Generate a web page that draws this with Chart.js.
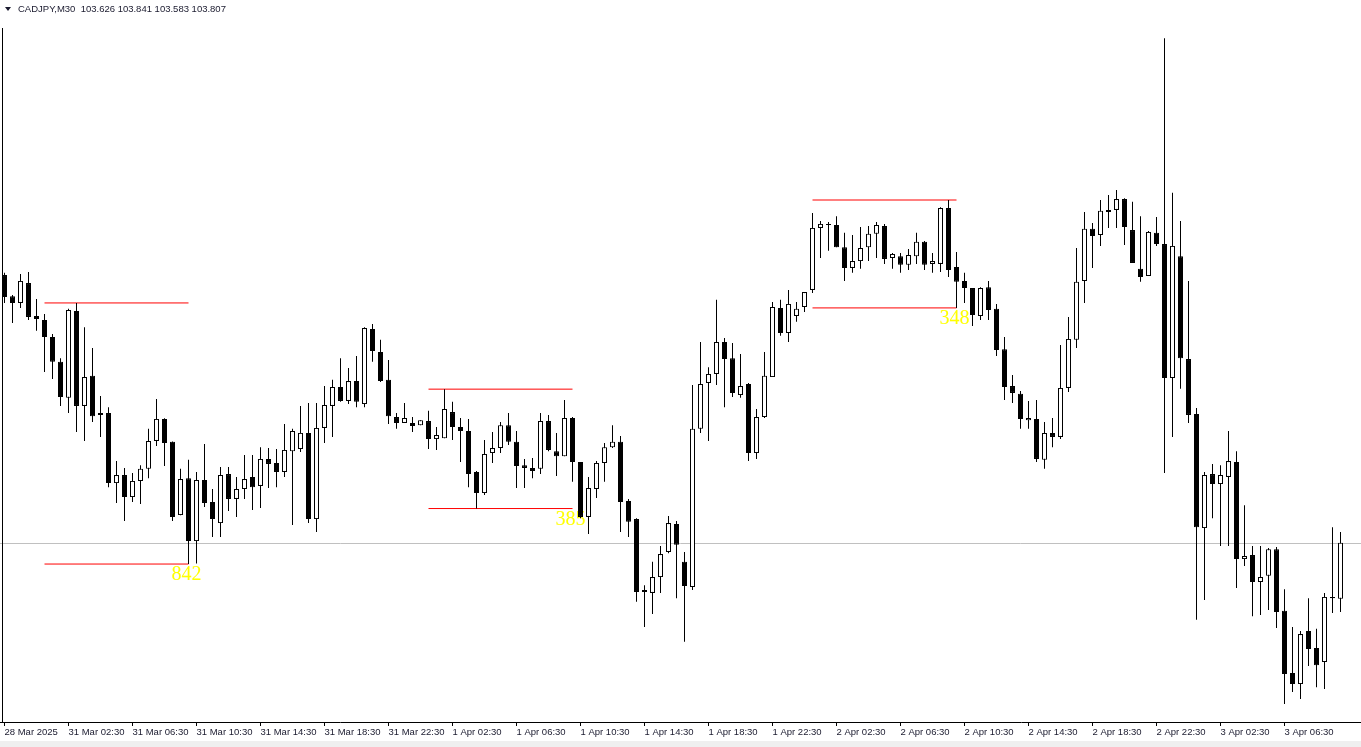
<!DOCTYPE html>
<html lang="en">
<head>
    <meta charset="UTF-8">
    <title>CADJPY,M30</title>
    <script src="https://cdn.jsdelivr.net/npm/chart.js"></script>
    <style>
        html, body { margin: 0; padding: 0; background: #fff; overflow: hidden; }
        canvas { display: block; }
    </style>
</head>
<body>
    <canvas id="cadjpyChart" width="1361" height="747"></canvas>
    <script>
    const symbol = 'CADJPY,M30';

    // one value per 30 min bar, oldest first
    const opens = [104.670, 104.602, 104.580, 104.644, 104.538, 104.525, 104.470, 104.390, 104.274, 104.554,
        104.248, 104.345, 104.225, 104.225, 103.999, 104.025, 103.954, 104.006, 104.045, 104.135,
        104.206, 104.132, 103.896, 104.015, 103.812, 104.009, 103.938, 103.870, 104.028, 103.948,
        103.980, 104.019, 103.990, 104.077, 104.064, 104.035, 104.102, 104.109, 104.161, 103.883,
        104.177, 104.248, 104.309, 104.264, 104.328, 104.254, 104.496, 104.422, 104.332, 104.212,
        104.193, 104.193, 104.186, 104.199, 104.141, 104.144, 104.228, 104.180, 104.167, 104.035,
        103.967, 104.096, 104.112, 104.186, 104.132, 104.057, 104.048, 104.045, 104.199, 104.102,
        104.086, 104.209, 104.067, 103.890, 103.980, 104.064, 104.115, 104.132, 103.941, 103.883,
        103.654, 103.645, 103.696, 103.777, 103.867, 103.745, 103.664, 104.174, 104.322, 104.351,
        104.454, 104.402, 104.283, 104.319, 104.096, 104.212, 104.341, 104.564, 104.483, 104.538,
        104.567, 104.622, 104.822, 104.835, 104.831, 104.760, 104.693, 104.715, 104.760, 104.803,
        104.828, 104.725, 104.731, 104.703, 104.731, 104.777, 104.706, 104.706, 104.886, 104.696,
        104.651, 104.628, 104.538, 104.631, 104.561, 104.431, 104.312, 104.287, 104.202, 104.206,
        104.074, 104.161, 104.148, 104.306, 104.461, 104.651, 104.819, 104.799, 104.880, 104.880,
        104.915, 104.815, 104.690, 104.667, 104.806, 104.770, 104.338, 104.731, 104.399, 104.222,
        103.854, 104.028, 103.996, 104.019, 104.067, 103.754, 103.767, 103.680, 103.700, 103.786,
        103.587, 103.387, 103.351, 103.522, 103.467, 103.422, 103.632, 103.626];
    const highs = [104.677, 104.606, 104.673, 104.680, 104.593, 104.544, 104.480, 104.402, 104.561, 104.580,
        104.502, 104.435, 104.280, 104.244, 104.070, 104.048, 104.032, 104.057, 104.174, 104.270,
        104.208, 104.133, 104.045, 104.074, 104.035, 104.125, 103.980, 104.051, 104.051, 104.019,
        104.090, 104.090, 104.115, 104.112, 104.109, 104.190, 104.174, 104.248, 104.257, 104.257,
        104.312, 104.332, 104.402, 104.370, 104.409, 104.502, 104.512, 104.461, 104.396, 104.225,
        104.257, 104.212, 104.202, 104.232, 104.180, 104.302, 104.261, 104.209, 104.206, 104.038,
        104.138, 104.164, 104.196, 104.225, 104.167, 104.077, 104.080, 104.225, 104.219, 104.161,
        104.267, 104.212, 104.067, 104.019, 104.070, 104.128, 104.186, 104.151, 103.948, 103.886,
        103.670, 103.745, 103.796, 103.893, 103.877, 103.777, 104.315, 104.454, 104.373, 104.590,
        104.467, 104.451, 104.415, 104.322, 104.238, 104.422, 104.583, 104.590, 104.622, 104.583,
        104.615, 104.870, 104.844, 104.841, 104.860, 104.806, 104.799, 104.825, 104.828, 104.841,
        104.835, 104.741, 104.741, 104.754, 104.806, 104.780, 104.741, 104.889, 104.912, 104.744,
        104.677, 104.628, 104.631, 104.651, 104.577, 104.470, 104.348, 104.296, 104.264, 104.267,
        104.196, 104.209, 104.444, 104.535, 104.757, 104.873, 104.838, 104.912, 104.928, 104.944,
        104.918, 104.906, 104.860, 104.812, 104.857, 105.434, 104.935, 104.844, 104.651, 104.241,
        104.035, 104.061, 104.057, 104.167, 104.102, 103.928, 103.796, 103.796, 103.790, 103.793,
        103.657, 103.535, 103.522, 103.628, 103.529, 103.645, 103.857, 103.841];
    const lows = [104.580, 104.515, 104.564, 104.525, 104.490, 104.357, 104.335, 104.248, 104.225, 104.164,
        104.135, 104.196, 104.148, 103.986, 103.935, 103.877, 103.938, 103.932, 104.015, 104.119,
        104.054, 103.877, 103.895, 103.738, 103.740, 103.922, 103.825, 103.825, 103.909, 103.890,
        103.948, 103.912, 103.919, 103.983, 103.986, 104.019, 103.864, 104.099, 103.870, 103.841,
        104.128, 104.148, 104.261, 104.254, 104.244, 104.244, 104.390, 104.325, 104.190, 104.174,
        104.193, 104.164, 104.186, 104.109, 104.106, 104.144, 104.138, 104.067, 103.986, 103.917,
        103.961, 104.064, 104.096, 104.122, 103.983, 103.983, 104.015, 104.028, 104.102, 104.022,
        104.086, 104.003, 103.886, 103.835, 103.951, 104.003, 104.112, 103.841, 103.825, 103.616,
        103.535, 103.577, 103.645, 103.773, 103.628, 103.487, 103.654, 104.161, 104.135, 104.315,
        104.244, 104.277, 104.274, 104.070, 104.077, 104.209, 104.341, 104.474, 104.454, 104.519,
        104.551, 104.612, 104.725, 104.748, 104.760, 104.651, 104.677, 104.690, 104.715, 104.725,
        104.706, 104.690, 104.677, 104.686, 104.706, 104.686, 104.677, 104.680, 104.664, 104.564,
        104.580, 104.506, 104.525, 104.525, 104.409, 104.267, 104.257, 104.174, 104.174, 104.067,
        104.045, 104.115, 104.141, 104.293, 104.435, 104.580, 104.693, 104.764, 104.822, 104.822,
        104.767, 104.709, 104.648, 104.667, 104.764, 104.032, 104.148, 104.303, 104.193, 103.558,
        103.622, 103.886, 103.796, 103.796, 103.661, 103.732, 103.570, 103.574, 103.590, 103.532,
        103.287, 103.325, 103.303, 103.409, 103.341, 103.335, 103.580, 103.583];
    const closes = [104.599, 104.580, 104.651, 104.535, 104.528, 104.470, 104.390, 104.277, 104.557, 104.248,
        104.341, 104.215, 104.219, 103.999, 104.025, 103.954, 104.006, 104.045, 104.135, 104.206,
        104.128, 103.890, 104.012, 103.812, 104.009, 103.935, 103.883, 104.025, 103.948, 103.980,
        104.012, 103.986, 104.077, 104.061, 104.035, 104.106, 104.167, 104.161, 103.883, 104.177,
        104.251, 104.309, 104.264, 104.328, 104.261, 104.499, 104.425, 104.328, 104.215, 104.193,
        104.209, 104.183, 104.202, 104.141, 104.154, 104.238, 104.180, 104.167, 104.028, 103.967,
        104.093, 104.112, 104.186, 104.132, 104.054, 104.048, 104.038, 104.199, 104.106, 104.086,
        104.209, 104.067, 103.890, 103.983, 104.064, 104.115, 104.132, 103.938, 103.874, 103.648,
        103.648, 103.696, 103.770, 103.870, 103.800, 103.667, 104.174, 104.319, 104.351, 104.454,
        104.399, 104.290, 104.312, 104.096, 104.212, 104.345, 104.567, 104.483, 104.577, 104.561,
        104.615, 104.822, 104.835, 104.831, 104.760, 104.693, 104.715, 104.757, 104.803, 104.831,
        104.722, 104.738, 104.703, 104.735, 104.777, 104.703, 104.715, 104.886, 104.686, 104.648,
        104.628, 104.541, 104.628, 104.557, 104.428, 104.309, 104.290, 104.206, 104.209, 104.077,
        104.161, 104.148, 104.306, 104.464, 104.648, 104.819, 104.796, 104.877, 104.873, 104.915,
        104.825, 104.709, 104.664, 104.809, 104.770, 104.338, 104.764, 104.402, 104.219, 103.857,
        104.025, 103.996, 104.025, 104.070, 103.754, 103.764, 103.680, 103.696, 103.786, 103.583,
        103.383, 103.351, 103.512, 103.464, 103.412, 103.632, 103.628, 103.807];

    // time axis labels, one every 8 bars (4 hours)
    const tickLabels = ['28 Mar 2025', '31 Mar 02:30', '31 Mar 06:30', '31 Mar 10:30', '31 Mar 14:30',
        '31 Mar 18:30', '31 Mar 22:30', '1 Apr 02:30', '1 Apr 06:30', '1 Apr 10:30', '1 Apr 14:30',
        '1 Apr 18:30', '1 Apr 22:30', '2 Apr 02:30', '2 Apr 06:30', '2 Apr 10:30', '2 Apr 14:30',
        '2 Apr 18:30', '2 Apr 22:30', '3 Apr 02:30', '3 Apr 06:30'];
    const barsPerTick = 8;

    // session ranges drawn in red (first bar, last bar, high, low)
    const rangeStart = [5, 53, 101];
    const rangeEnd = [23, 71, 119];
    const rangeHigh = [104.580, 104.302, 104.912];
    const rangeLow = [103.738, 103.917, 104.564];

    document.addEventListener('DOMContentLoaded', function() {
        const last = closes.length - 1;
        const bidPrice = closes[last];

        const bodies = opens.map((o, i) => ({ x: i, y: [o, closes[i]] }));
        const wicks = lows.map((l, i) => ({ x: i, y: [l, highs[i]] }));
        const bodyColors = opens.map((o, i) => closes[i] < o ? '#000000' : '#ffffff');

        const rangeLines = [];
        rangeStart.forEach((s, k) => {
            [rangeHigh[k], rangeLow[k]].forEach(level => {
                rangeLines.push({
                    type: 'line',
                    data: [{ x: s, y: level }, { x: rangeEnd[k], y: level }],
                    borderColor: '#ff0000',
                    borderWidth: 1,
                    pointRadius: 0,
                    fill: false,
                    order: 3
                });
            });
        });

        // MT4 look: title, bid line, range sizes, frame
        const terminalPlugin = {
            id: 'terminal',
            beforeDatasetsDraw(chart) {
                const ctx = chart.ctx;
                const area = chart.chartArea;
                const xs = chart.scales.x;
                const ys = chart.scales.y;
                ctx.save();
                const yBid = Math.round(ys.getPixelForValue(bidPrice)) + 0.5;
                ctx.strokeStyle = '#c0c0c0';
                ctx.lineWidth = 1;
                ctx.beginPath();
                ctx.moveTo(area.left, yBid);
                ctx.lineTo(area.right, yBid);
                ctx.stroke();

                ctx.fillStyle = '#ffff00';
                ctx.font = '20px "Liberation Serif"';
                ctx.textAlign = 'center';
                ctx.textBaseline = 'top';
                rangeEnd.forEach((e, k) => {
                    const pts = Math.round((rangeHigh[k] - rangeLow[k]) * 1000);
                    ctx.fillText(String(pts), xs.getPixelForValue(e) - 2, ys.getPixelForValue(rangeLow[k]) + 1);
                });
                ctx.restore();
            },
            afterDraw(chart) {
                const ctx = chart.ctx;
                const area = chart.chartArea;
                ctx.save();
                ctx.strokeStyle = '#000';
                ctx.lineWidth = 1;
                ctx.beginPath();
                ctx.moveTo(2.5, 28);
                ctx.lineTo(2.5, area.bottom);
                ctx.stroke();

                ctx.fillStyle = '#efefef';
                ctx.fillRect(0, 741, chart.width, chart.height - 741);

                // small drop-down arrow then the symbol line
                ctx.fillStyle = '#1a1a2e';
                ctx.beginPath();
                ctx.moveTo(5, 7);
                ctx.lineTo(11, 7);
                ctx.lineTo(8, 11);
                ctx.closePath();
                ctx.fill();
                ctx.font = '9.5px "Liberation Sans"';
                ctx.textAlign = 'left';
                ctx.textBaseline = 'middle';
                const ohlc = [opens[last], highs[last], lows[last], closes[last]].map(v => v.toFixed(3)).join(' ');
                ctx.fillText(symbol + '  ' + ohlc, 18, 9.5);
                ctx.restore();
            }
        };

        new Chart(document.getElementById('cadjpyChart').getContext('2d'), {
            type: 'bar',
            data: {
                datasets: [{
                    label: 'body',
                    data: bodies,
                    backgroundColor: bodyColors,
                    borderColor: '#000000',
                    borderWidth: 1,
                    borderSkipped: false,
                    barThickness: 5,
                    minBarLength: 1,
                    inflateAmount: 0,
                    grouped: false,
                    order: 1
                }, {
                    label: 'wick',
                    data: wicks,
                    backgroundColor: '#000000',
                    borderWidth: 0,
                    barThickness: 1,
                    inflateAmount: 0,
                    grouped: false,
                    order: 2
                }].concat(rangeLines)
            },
            options: {
                responsive: false,
                animation: false,
                devicePixelRatio: 1,
                layout: { padding: 0 },
                plugins: {
                    legend: { display: false },
                    tooltip: { enabled: false }
                },
                scales: {
                    x: {
                        type: 'linear',
                        offset: false,
                        bounds: 'ticks',
                        min: -0.5625,
                        max: 169.5625,
                        afterBuildTicks: (scale) => {
                            scale.ticks = tickLabels.map((t, k) => ({ value: k * barsPerTick }));
                        },
                        afterFit: (scale) => {
                            scale.height = 25;
                            scale.paddingLeft = 0;
                            scale.paddingRight = 0;
                        },
                        ticks: {
                            autoSkip: false,
                            maxRotation: 0,
                            align: 'start',
                            padding: 1,
                            color: '#1a1a2e',
                            font: { family: 'Liberation Sans', size: 9.5 },
                            callback: (value) => tickLabels[Math.round(value / barsPerTick)]
                        },
                        grid: {
                            offset: false,
                            drawOnChartArea: false,
                            drawTicks: true,
                            tickLength: 4,
                            color: '#000000'
                        },
                        border: { display: true, color: '#000000', width: 1 }
                    },
                    y: {
                        display: false,
                        min: 103.2286,
                        max: 105.557
                    }
                }
            },
            plugins: [terminalPlugin]
        });
    });
    </script>
</body>
</html>
